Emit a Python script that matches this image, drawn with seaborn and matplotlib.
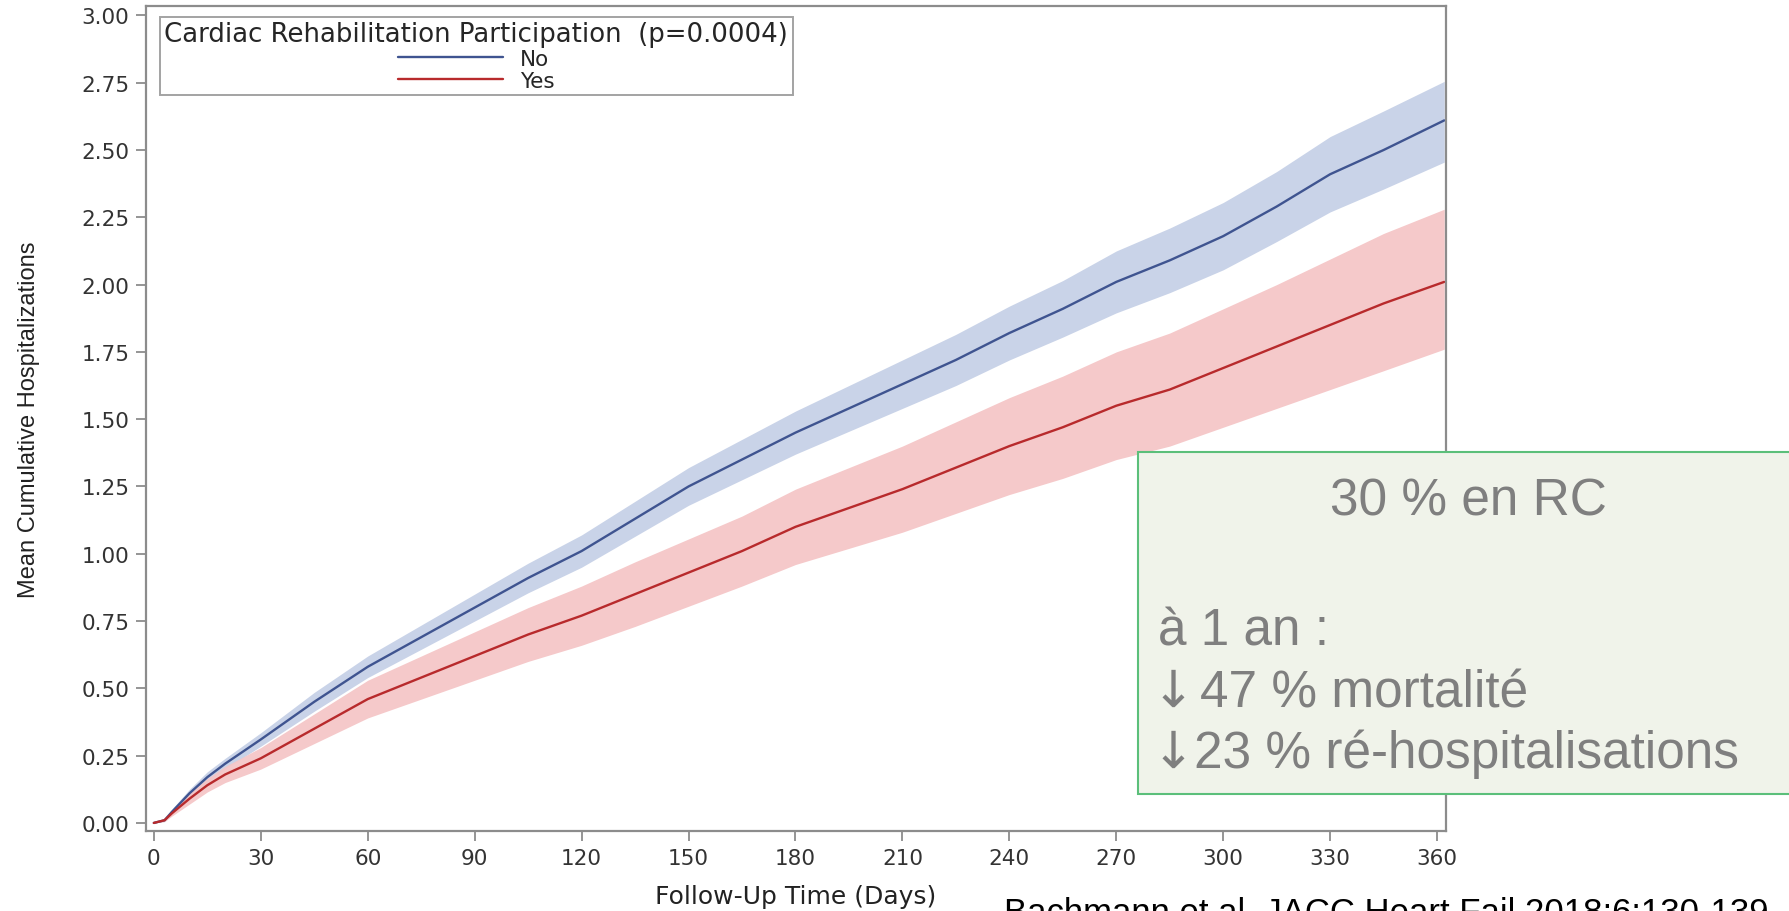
import numpy as np
import pandas as pd
import matplotlib
matplotlib.use("Agg")
import matplotlib.pyplot as plt
import seaborn as sns
from matplotlib.patches import Rectangle

## dados (dias de seguimento x hospitalizações cumulativas)

days = [0, 3, 5, 10, 15, 20, 30, 45, 60, 75, 90, 105, 120, 135, 150, 165, 180,
        195, 210, 225, 240, 255, 270, 285, 300, 315, 330, 345, 362]

no_mean = [0, 0.01, 0.04, 0.11, 0.17, 0.22, 0.31, 0.45, 0.58, 0.69, 0.80, 0.91,
           1.01, 1.13, 1.25, 1.35, 1.45, 1.54, 1.63, 1.72, 1.82, 1.91, 2.01,
           2.09, 2.18, 2.29, 2.41, 2.50, 2.61]
no_lo = [0, 0.005, 0.03, 0.095, 0.15, 0.20, 0.285, 0.415, 0.54, 0.645, 0.75,
         0.855, 0.95, 1.065, 1.18, 1.275, 1.37, 1.455, 1.54, 1.625, 1.72, 1.805,
         1.895, 1.97, 2.055, 2.16, 2.27, 2.355, 2.455]
no_hi = [0, 0.015, 0.05, 0.125, 0.19, 0.24, 0.335, 0.485, 0.62, 0.735, 0.85,
         0.965, 1.07, 1.195, 1.32, 1.425, 1.53, 1.625, 1.72, 1.815, 1.92, 2.015,
         2.125, 2.21, 2.305, 2.42, 2.55, 2.645, 2.755]

yes_mean = [0, 0.01, 0.035, 0.09, 0.14, 0.18, 0.24, 0.35, 0.46, 0.54, 0.62, 0.70,
            0.77, 0.85, 0.93, 1.01, 1.10, 1.17, 1.24, 1.32, 1.40, 1.47, 1.55,
            1.61, 1.69, 1.77, 1.85, 1.93, 2.01]
yes_lo = [0, 0.005, 0.025, 0.07, 0.115, 0.15, 0.20, 0.295, 0.39, 0.46, 0.53,
          0.60, 0.66, 0.73, 0.805, 0.88, 0.96, 1.02, 1.08, 1.15, 1.22, 1.28,
          1.35, 1.40, 1.47, 1.54, 1.61, 1.68, 1.76]
yes_hi = [0, 0.015, 0.045, 0.11, 0.165, 0.21, 0.28, 0.405, 0.53, 0.62, 0.71,
          0.80, 0.88, 0.97, 1.055, 1.14, 1.24, 1.32, 1.40, 1.49, 1.58, 1.66,
          1.75, 1.82, 1.91, 2.00, 2.095, 2.19, 2.28]

groups = ["No", "Yes"]
x_ticks = list(range(0, 361, 30))
y_ticks = [0, 0.25, 0.5, 0.75, 1.0, 1.25, 1.5, 1.75, 2.0, 2.25, 2.5, 2.75, 3.0]

box_title = "30 % en RC"
box_lines = ["à 1 an :", "47 % mortalité", "23 % ré-hospitalisations"]
box_arrows = ["", "\u2193", "\u2193"]

# %%

df = pd.concat([
    pd.DataFrame({"days": days, "mean": no_mean, "group": "No"}),
    pd.DataFrame({"days": days, "mean": yes_mean, "group": "Yes"}),
])

cores = {"No": "#3F5490", "Yes": "#B82A2C"}
cores_banda = {"No": "#C9D3E8", "Yes": "#F5C6C7"}

sns.set_style("white")
plt.rcParams["font.family"] = ["DejaVu Sans"]

fig = plt.figure(figsize=(17.89, 9.12), dpi=100)
ax = fig.add_axes([146 / 1789, 1 - 832 / 912, 1300 / 1789, 825 / 912])

ax.fill_between(days, no_lo, no_hi, color=cores_banda["No"], lw=0)
ax.fill_between(days, yes_lo, yes_hi, color=cores_banda["Yes"], lw=0, alpha=0.95)

sns.lineplot(data=df, x="days", y="mean", hue="group", hue_order=groups,
             palette=cores, linewidth=1.7, errorbar=None, ax=ax)

ax.set_xlim(-2.2, 362.5)
ax.set_ylim(-0.03, 3.035)
ax.set_xticks(x_ticks)
ax.set_yticks(y_ticks)
ax.set_yticklabels([f"{v:.2f}" for v in y_ticks])

for s in ax.spines.values():
    s.set_visible(True)
    s.set_color("#8C8C8C")
    s.set_linewidth(1.6)

ax.tick_params(axis="both", direction="out", length=7, width=1.3,
               color="#8C8C8C", labelsize=15.5, labelcolor="#333333", pad=5)
ax.tick_params(axis="both", bottom=True, left=True)

ax.set_xlabel("Follow-Up Time (Days)", fontsize=18, color="#222222", labelpad=12)
ax.set_ylabel("Mean Cumulative Hospitalizations", fontsize=17, color="#222222",
              family=["Liberation Sans", "DejaVu Sans"], labelpad=30)

handles, labels = ax.get_legend_handles_labels()
leg = ax.legend(handles, labels, title="Cardiac Rehabilitation Participation  (p=0.0004)",
                loc="upper left", bbox_to_anchor=(0.0108, 0.9867), borderaxespad=0,
                fontsize=15.5, title_fontsize=18.7, frameon=True, fancybox=False,
                handlelength=4.9, handletextpad=0.8, labelspacing=0.08,
                borderpad=0.2)
leg.get_frame().set_edgecolor("#8C8C8C")
leg.get_frame().set_linewidth(1.4)

# caixa de texto à direita
fig.patches.append(Rectangle((1138 / 1789, 1 - 795 / 912), 0.5, (795 - 453) / 912,
                             transform=fig.transFigure, facecolor="#F0F3EA",
                             edgecolor="#5BBF7A", linewidth=1.5, zorder=5))

fam = ["Liberation Sans", "DejaVu Sans"]
fig.text(1468 / 1789, 1 - 516 / 912, box_title, ha="center", va="baseline",
         fontsize=37, color="#7F7F7F", family=fam, zorder=6)
for txt, arr, yb, xt in zip(box_lines, box_arrows, [646, 707, 768], [1158, 1200, 1194]):
    fig.text(xt / 1789, 1 - yb / 912, txt, ha="left", va="baseline",
             fontsize=37, color="#7F7F7F", family=fam, zorder=6)
    if arr:
        fig.text(1152 / 1789, 1 - yb / 912, arr, ha="left", va="baseline",
                 fontsize=37, color="#7F7F7F", family=["DejaVu Sans"], zorder=6)

fig.text(1004 / 1789, 1 - 923 / 912, "Bachmann et al. JACC Heart Fail 2018;6:130-139",
         ha="left", va="baseline", fontsize=25, color="black", family=fam)

plt.savefig("out.png", dpi=100)
